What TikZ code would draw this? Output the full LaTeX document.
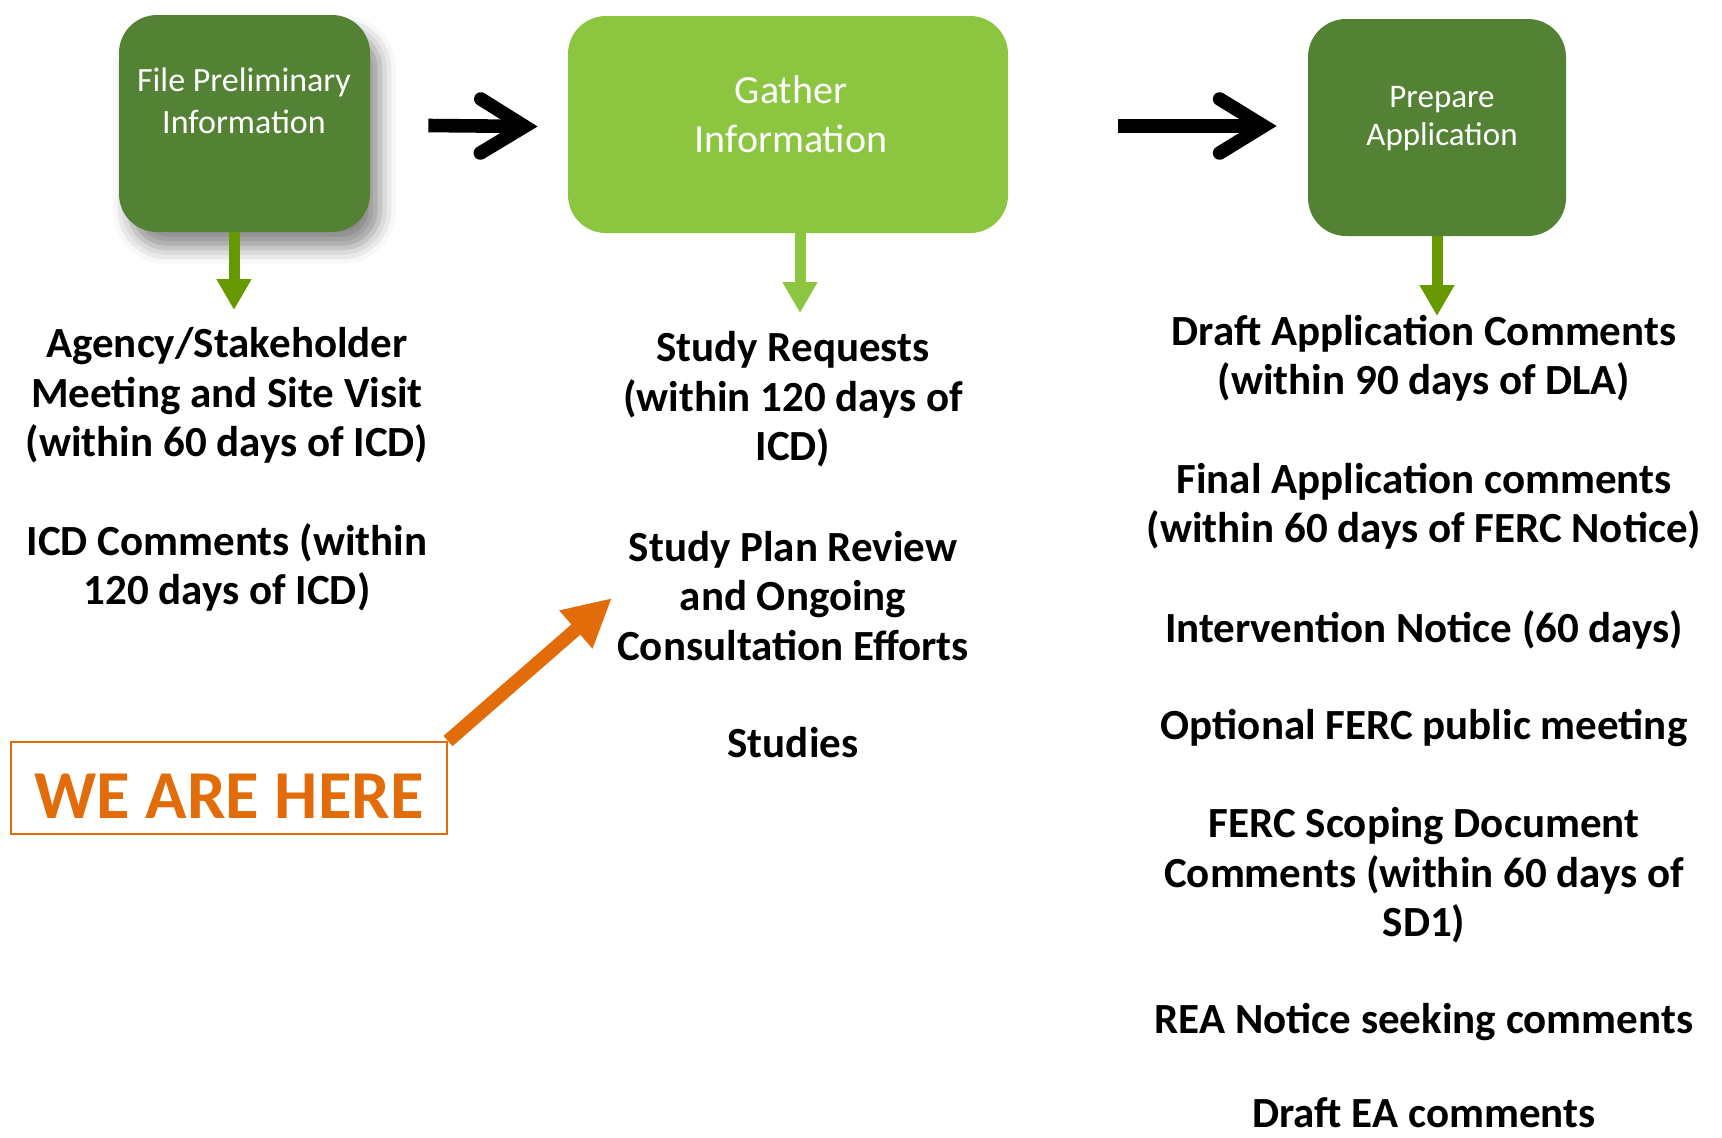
\documentclass[tikz,border=0pt]{standalone}
\usepackage{fontspec}
\setmainfont{Carlito}
\usetikzlibrary{arrows.meta,shadows.blur}
\definecolor{darkgreen}{HTML}{548235}
\definecolor{lightgreen}{HTML}{8CC540}
\definecolor{olivegreen}{HTML}{669900}
\definecolor{orng}{HTML}{E36C0A}
\begin{document}
\begin{tikzpicture}[x=0.5pt,y=-0.5pt,
  stage/.style={rounded corners=19pt, inner sep=0pt, minimum height=108.5pt},
  stagetext/.style={text=white, align=center, inner sep=0pt},
  coltext/.style={align=center, inner sep=0pt, font=\fontsize{21.5}{24.7}\selectfont\bfseries},
  flowarrow/.style={line width=6.8pt, -{Straight Barb[length=22pt,width=27pt,line cap=round,line join=miter]}},
  droparrow/.style={line width=5.5pt, -{Triangle[length=15.5pt,width=16.5pt]}},
  herearrow/.style={orng, line width=6.8pt, -{Triangle[length=24pt,width=23.5pt]}},
  herebox/.style={draw=orng, line width=1pt, minimum width=218pt, minimum height=46pt, inner sep=0pt,
    text=orng, font=\fontsize{34.3}{40}\selectfont\bfseries, text height=30pt}
]
\useasboundingbox (0,0) rectangle (1722,1137);

% stage boxes
\node[stage, fill=darkgreen, minimum width=125.5pt,
  blur shadow={shadow xshift=5pt, shadow yshift=-8pt, shadow blur radius=8pt, shadow opacity=45}]
  (b1) at (244.5,123.5) {};
\node[stagetext, font=\fontsize{17}{21}\selectfont] (b1t) at (244,101) {File Preliminary\\Information};

\node[stage, fill=lightgreen, minimum width=220pt] (b2) at (788,124.5) {};
\node[stagetext, font=\fontsize{20}{24.5}\selectfont] (b2t) at (791,114.5) {Gather\\Information};

\node[stage, fill=darkgreen, minimum width=129pt] (b3) at (1437,127.5) {};
\node[stagetext, font=\fontsize{16.5}{19}\selectfont] (b3t) at (1442,118.5) {Prepare\\Application};

% flow arrows
\draw[flowarrow] ([xshift=29pt,yshift=-1pt]b1.east) -- ([xshift=-15pt,yshift=-1pt]b2.west);
\draw[flowarrow] ([xshift=55pt,yshift=-0.75pt]b2.east) -- ([xshift=-15.5pt,yshift=0.75pt]b3.west);

% drop arrows
\coordinate (d1) at (234,310);
\coordinate (d2) at (800,313);
\coordinate (d3) at (1437,316);
\draw[droparrow, olivegreen] (b1.south -| d1) -- (d1);
\draw[droparrow, lightgreen] (b2.south -| d2) -- (d2);
\draw[droparrow, olivegreen] (b3.south -| d3) -- (d3);

% column 1
\node[coltext] (c1a) at (227,395.5) {Agency/Stakeholder\\Meeting and Site Visit\\(within 60 days of ICD)};
\node[coltext] (c1b) at (227,567.5) {ICD Comments (within\\120 days of ICD)};

% column 2
\node[coltext] (c2a) at (793,399.5) {Study Requests\\(within 120 days of\\ICD)};
\node[coltext] (c2b) at (793,596) {Study Plan Review\\and Ongoing\\Consultation Efforts};
\node[coltext] (c2c) at (793,743) {Studies};

% column 3
\node[coltext] (c3a) at (1424,358.5) {Draft Application Comments\\(within 90 days of DLA)};
\node[coltext] (c3b) at (1424,506.5) {Final Application comments\\(within 60 days of FERC Notice)};
\node[coltext] (c3c) at (1424,629.5) {Intervention Notice (60 days)};
\node[coltext] (c3d) at (1424,728.5) {Optional FERC public meeting};
\node[coltext] (c3e) at (1424,875.5) {FERC Scoping Document\\Comments (within 60 days of\\SD1)};
\node[coltext] (c3f) at (1424,1022.5) {REA Notice seeking comments};
\node[coltext] (c3g) at (1424,1113) {Draft EA comments};

% we are here
\node[herebox] (here) at (229,788) {WE ARE HERE};
\coordinate (htip) at (612,598);
\draw[herearrow] (here.north east) -- (htip);
\end{tikzpicture}
\end{document}
